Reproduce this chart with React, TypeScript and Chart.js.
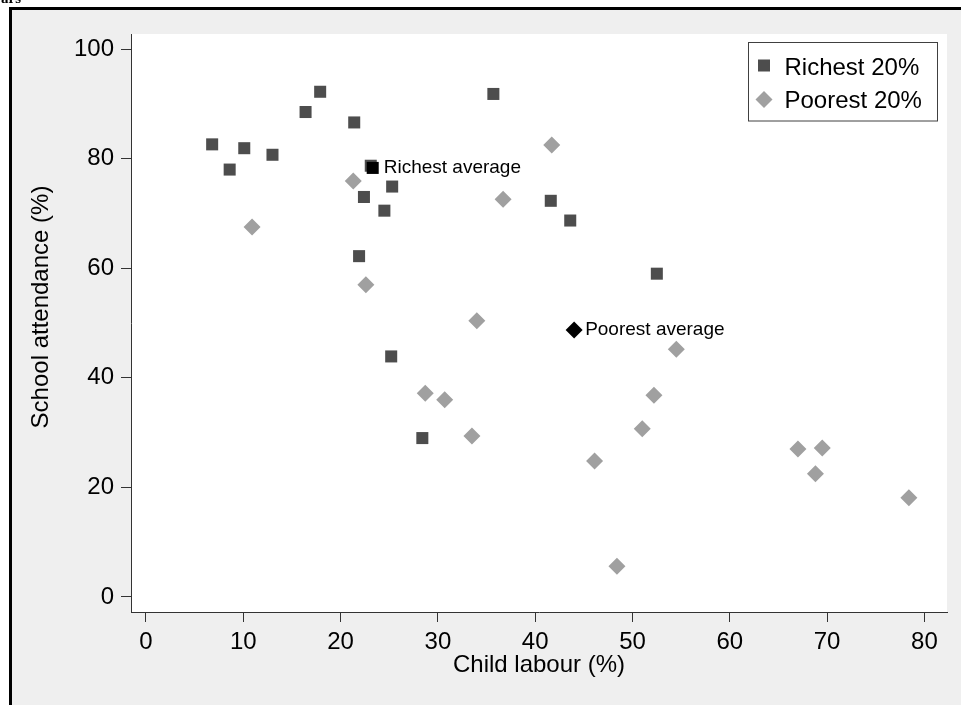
import React, { useEffect, useRef } from "react";
import { Chart, registerables } from "chart.js";

Chart.register(...registerables);

// ---- data ----
const RICHEST_X = [6.8, 8.6, 10.1, 13.0, 16.4, 17.9, 21.4, 23.1, 25.3, 22.4, 24.5, 21.9, 25.2, 28.4, 35.7, 41.6, 43.6, 52.5];
const RICHEST_Y = [82.6, 78.0, 81.9, 80.7, 88.5, 92.2, 86.6, 78.7, 74.9, 73.0, 70.5, 62.2, 43.9, 29.0, 91.8, 72.3, 68.7, 59.0];
const POOREST_X = [21.3, 10.9, 22.6, 34.0, 54.5, 28.7, 30.7, 52.2, 51.0, 33.5, 46.1, 48.4, 41.7, 36.7, 67.0, 69.5, 68.8, 78.4];
const POOREST_Y = [75.9, 67.5, 57.0, 50.4, 45.2, 37.2, 36.0, 36.8, 30.7, 29.4, 24.8, 5.6, 82.5, 72.6, 27.0, 27.2, 22.5, 18.1];
const AVG_LABELS = ["Richest average", "Poorest average"];
const AVG_X = [23.3, 44.0];
const AVG_Y = [78.3, 48.7];
const SERIES_LABELS = ["Richest 20%", "Poorest 20%"];
const X_TICKS = [0, 10, 20, 30, 40, 50, 60, 70, 80];
const Y_TICKS = [0, 20, 40, 60, 80, 100];
const X_TITLE = "Child labour (%)";
const Y_TITLE = "School attendance (%)";
const CLIPPED_HEADER = "ars";

const DARK = "#4d4d4d";
const LIGHT = "#a0a0a0";
const BG = "#efefef";
const AXIS = "#333333";
const FONT = '"Liberation Sans", Arial, Helvetica, sans-serif';

const toPoints = (xs: number[], ys: number[]) => xs.map((x, i) => ({ x, y: ys[i] }));

const framePlugin = {
  id: "frame",
  beforeDraw(chart: any) {
    const { ctx, width, height, chartArea } = chart;
    ctx.save();
    ctx.fillStyle = "#ffffff";
    ctx.fillRect(0, 0, width, height);
    ctx.fillStyle = "#000000";
    ctx.fillRect(9, 7, width - 9, height - 7);
    ctx.fillStyle = BG;
    ctx.fillRect(12, 10, width - 12, height - 10);
    ctx.fillStyle = "#ffffff";
    ctx.fillRect(chartArea.left, chartArea.top, chartArea.right - chartArea.left, chartArea.bottom - chartArea.top);
    // clipped header fragment
    ctx.fillStyle = "#000";
    ctx.font = 'bold 15px "Liberation Serif", "Times New Roman", serif';
    ctx.textBaseline = "alphabetic";
    ctx.textAlign = "left";
    ctx.fillText(CLIPPED_HEADER, 1, 2.5);
    ctx.restore();
  },
};

const overlayPlugin = {
  id: "overlay",
  afterDraw(chart: any) {
    const { ctx, chartArea } = chart;
    ctx.save();
    // averages labels
    ctx.fillStyle = "#000";
    ctx.font = `19px ${FONT}`;
    ctx.textBaseline = "middle";
    ctx.textAlign = "left";
    [0, 1].forEach((di) => {
      const meta = chart.getDatasetMeta(di);
      const el = meta.data[0];
      if (el) ctx.fillText(AVG_LABELS[di], el.x + 11, el.y);
    });

    // axis titles
    ctx.font = `24px ${FONT}`;
    ctx.textAlign = "center";
    ctx.textBaseline = "middle";
    ctx.fillText(X_TITLE, (chartArea.left + chartArea.right) / 2, 665.5);
    ctx.save();
    ctx.translate(41, 307);
    ctx.rotate(-Math.PI / 2);
    ctx.fillText(Y_TITLE, 0, 0);
    ctx.restore();

    // legend
    const bl = chartArea.right - 198.5;
    const bt = chartArea.top + 8.5;
    const bw = 189;
    const bh = 78.5;
    ctx.fillStyle = "#ffffff";
    ctx.fillRect(bl, bt, bw, bh);
    ctx.strokeStyle = "#404040";
    ctx.lineWidth = 1;
    ctx.strokeRect(bl, bt, bw, bh);
    const mx = bl + 15.5;
    // square
    ctx.fillStyle = DARK;
    ctx.fillRect(mx - 6, bt + 23 - 6, 12, 12);
    // diamond
    ctx.fillStyle = LIGHT;
    ctx.beginPath();
    const dy = bt + 57;
    ctx.moveTo(mx, dy - 8.5);
    ctx.lineTo(mx + 8.5, dy);
    ctx.lineTo(mx, dy + 8.5);
    ctx.lineTo(mx - 8.5, dy);
    ctx.closePath();
    ctx.fill();
    ctx.fillStyle = "#000";
    ctx.font = `24px ${FONT}`;
    ctx.textAlign = "left";
    ctx.textBaseline = "middle";
    ctx.fillText(SERIES_LABELS[0], bl + 36, bt + 25.5);
    ctx.fillText(SERIES_LABELS[1], bl + 36, bt + 59);
    ctx.restore();
  },
};

export default function App() {
  const ref = useRef<HTMLCanvasElement | null>(null);

  useEffect(() => {
    if (!ref.current) return;
    const chart = new Chart(ref.current, {
      type: "scatter",
      data: {
        datasets: [
          {
            label: AVG_LABELS[0],
            data: [{ x: AVG_X[0], y: AVG_Y[0] }],
            pointStyle: "rect",
            pointRadius: 8.5,
            backgroundColor: "#000",
            borderColor: "#000",
            borderWidth: 0,
            order: 0,
          },
          {
            label: AVG_LABELS[1],
            data: [{ x: AVG_X[1], y: AVG_Y[1] }],
            pointStyle: "rectRot",
            pointRadius: 8.5,
            backgroundColor: "#000",
            borderColor: "#000",
            borderWidth: 0,
            order: 0,
          },
          {
            label: SERIES_LABELS[1],
            data: toPoints(POOREST_X, POOREST_Y),
            pointStyle: "rectRot",
            pointRadius: 8.5,
            backgroundColor: LIGHT,
            borderColor: LIGHT,
            borderWidth: 0,
            order: 1,
          },
          {
            label: SERIES_LABELS[0],
            data: toPoints(RICHEST_X, RICHEST_Y),
            pointStyle: "rect",
            pointRadius: 8.5,
            backgroundColor: DARK,
            borderColor: DARK,
            borderWidth: 0,
            order: 2,
          },
        ],
      },
      options: {
        responsive: false,
        animation: false,
        events: [],
        layout: { padding: { left: 0, right: 14, top: 34, bottom: 0 } },
        plugins: {
          legend: { display: false },
          tooltip: { enabled: false },
        },
        scales: {
          x: {
            type: "linear",
            min: -1.54,
            max: 82.32,
            afterBuildTicks: (s: any) => {
              s.ticks = X_TICKS.map((v) => ({ value: v }));
            },
            afterFit: (s: any) => {
              s.height = 93;
            },
            grid: { drawOnChartArea: false, drawTicks: true, tickLength: 10, color: AXIS, lineWidth: 1 },
            border: { display: true, color: AXIS, width: 1 },
            ticks: { padding: 6, color: "#000", font: { family: FONT, size: 24 }, maxRotation: 0, autoSkip: false },
          },
          y: {
            type: "linear",
            min: -2.74,
            max: 102.74,
            afterBuildTicks: (s: any) => {
              s.ticks = Y_TICKS.map((v) => ({ value: v }));
            },
            afterFit: (s: any) => {
              s.width = 131;
            },
            grid: { drawOnChartArea: false, drawTicks: true, tickLength: 10, color: AXIS, lineWidth: 1 },
            border: { display: true, color: AXIS, width: 1 },
            ticks: { padding: 7, color: "#000", font: { family: FONT, size: 24 }, autoSkip: false },
          },
        },
      },
      plugins: [framePlugin, overlayPlugin],
    } as any);
    return () => chart.destroy();
  }, []);

  return (
    <div style={{ position: "fixed", left: 0, top: 0, width: 961, height: 705 }}>
      <canvas ref={ref} width={961} height={705} style={{ display: "block", width: 961, height: 705 }} />
    </div>
  );
}
